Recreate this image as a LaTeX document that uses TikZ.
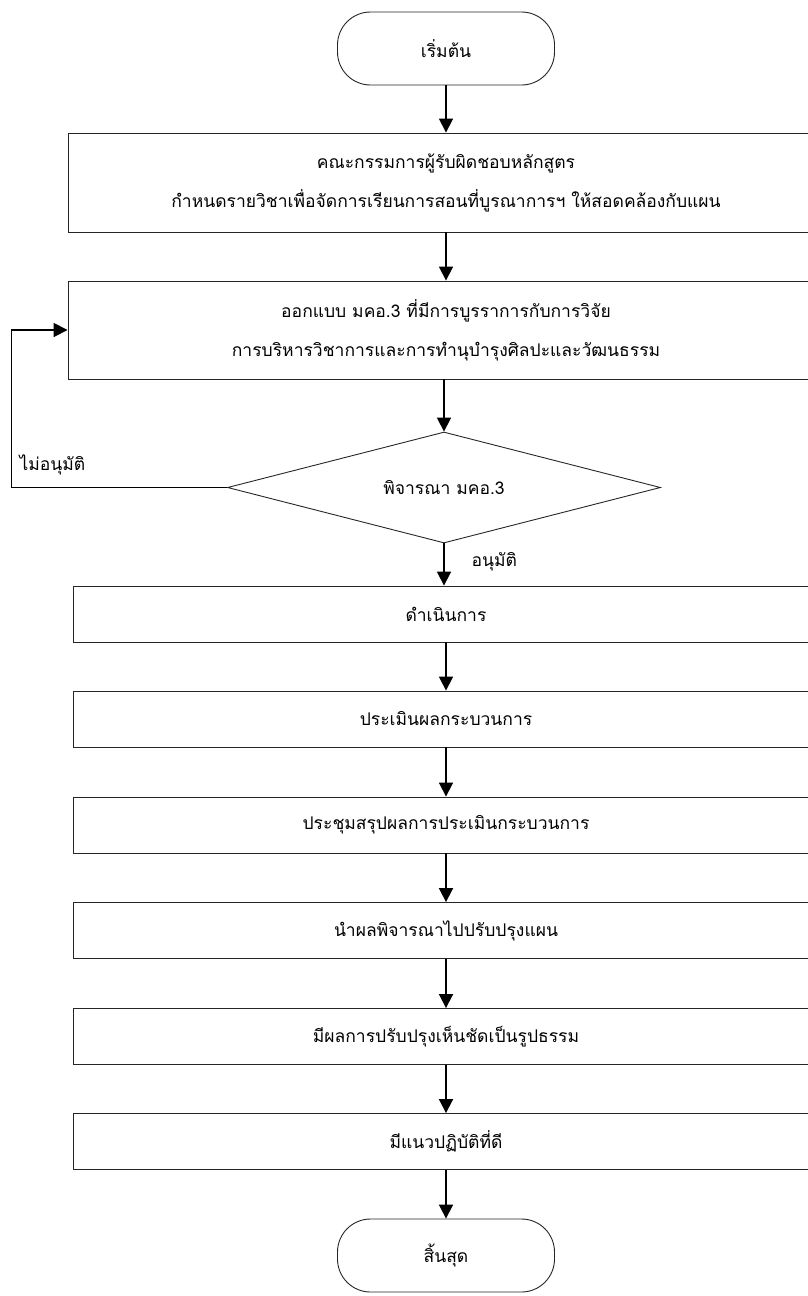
\documentclass[tikz,border=0pt]{standalone}
\usepackage{fontspec}
\newfontfamily\thaifont[Script=Thai]{Loma}
\usetikzlibrary{shapes.geometric,arrows.meta}
\begin{document}
\begin{tikzpicture}[x=1pt,y=-1pt,
	font=\thaifont\fontsize{17.5}{39}\selectfont,
	box/.style={draw=black!85,line width=0.9pt,inner sep=0pt,align=center,minimum height=56pt},
	wide/.style={box,minimum width=756pt},
	stage/.style={box,minimum width=746pt},
	term/.style={draw=black!85,line width=0.9pt,rounded corners=33pt,minimum width=217pt,minimum height=73pt},
	choice/.style={draw=black!85,line width=0.9pt,diamond,aspect=3.9,inner sep=0pt,minimum width=433pt,minimum height=111pt},
	go/.style={line width=1.8pt,-{Triangle[width=14pt,length=14pt]}},
	back/.style={line width=0.9pt}]
	\useasboundingbox (0,0) rectangle (808,1296);
	\node[term] (start) at (446,48.5) {เริ่มต้น};
	\node[wide,minimum height=99pt] (plan) at (446,182.5) {คณะกรรมการผู้รับผิดชอบหลักสูตร\\กำหนดรายวิชาเพื่อจัดการเรียนการสอนที่บูรณาการฯ ให้สอดคล้องกับแผน};
	\node[wide,minimum height=98pt] (design) at (446,330) {ออกแบบ มคอ.3 ที่มีการบูรราการกับการวิจัย\\การบริหารวิชาการและการทำนุบำรุงศิลปะและวัฒนธรรม};
	\node[choice] (check) at (444,487.5) {พิจารณา มคอ.3};
	\node[stage] (run) at (446,614) {ดำเนินการ};
	\node[stage] (eval) at (446,719) {ประเมินผลกระบวนการ};
	\node[stage] (meet) at (446,825) {ประชุมสรุปผลการประเมินกระบวนการ};
	\node[stage] (apply) at (446,930.5) {นำผลพิจารณาไปปรับปรุงแผน};
	\node[stage] (result) at (446,1036.5) {มีผลการปรับปรุงเห็นชัดเป็นรูปธรรม};
	\node[stage] (good) at (446,1141.5) {มีแนวปฏิบัติที่ดี};
	\node[term] (stop) at (446,1255.5) {สิ้นสุด};
	\coordinate (loop) at (11,0);
	\draw[go] (start.south) -- (start.south |- plan.north);
	\draw[go] (start.south |- plan.south) -- (start.south |- design.north);
	\draw[go] (check.north |- design.south) -- (check.north);
	\draw[go] (check.south) -- (check.south |- run.north);
	\draw[go] (start.south |- run.south) -- (start.south |- eval.north);
	\draw[go] (start.south |- eval.south) -- (start.south |- meet.north);
	\draw[go] (start.south |- meet.south) -- (start.south |- apply.north);
	\draw[go] (start.south |- apply.south) -- (start.south |- result.north);
	\draw[go] (start.south |- result.south) -- (start.south |- good.north);
	\draw[go] (start.south |- good.south) -- (stop.north);
	\draw[back] (check.west) -| (loop |- design.west);
	\draw[go] (loop |- design.west) -- (design.west);
	\node[anchor=west] (no) at (16,465) {ไม่อนุมัติ};
	\node[anchor=west] (yes) at (468,562) {อนุมัติ};
\end{tikzpicture}
\end{document}
